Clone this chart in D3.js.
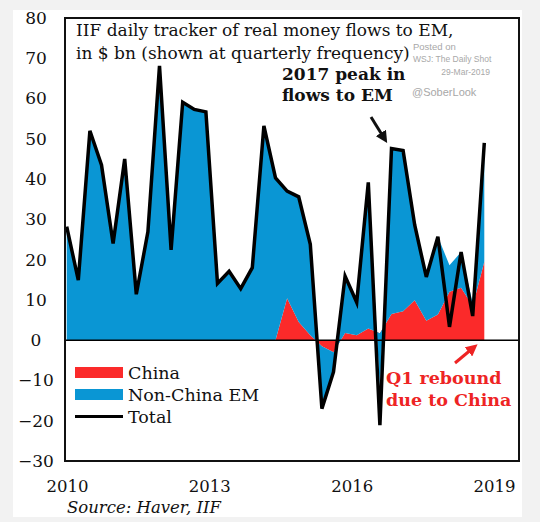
<!DOCTYPE html>
<html>
<head>
<meta charset="utf-8">
<script src="https://cdn.jsdelivr.net/npm/d3@7/dist/d3.min.js"></script>
<style>
body { margin: 0; background: #f2f2f2; }
svg text { font-family: "DejaVu Serif", "Liberation Serif", serif; }
</style>
</head>
<body>
<div id="chart"></div>
<script>
"use strict"

// quarterly categories, 2010Q1 .. 2019Q1
const quarters = [
    "2010Q1", "2010Q2", "2010Q3", "2010Q4", "2011Q1", "2011Q2", "2011Q3", "2011Q4",
    "2012Q1", "2012Q2", "2012Q3", "2012Q4", "2013Q1", "2013Q2", "2013Q3", "2013Q4",
    "2014Q1", "2014Q2", "2014Q3", "2014Q4", "2015Q1", "2015Q2", "2015Q3", "2015Q4",
    "2016Q1", "2016Q2", "2016Q3", "2016Q4", "2017Q1", "2017Q2", "2017Q3", "2017Q4",
    "2018Q1", "2018Q2", "2018Q3", "2018Q4", "2019Q1"
]

// $ bn
const total = [
    28.2, 14.9, 52.0, 43.5, 24.0, 45.0, 11.4, 26.9,
    68.1, 22.4, 59.1, 57.3, 56.7, 14.1, 17.1, 12.8,
    18.0, 53.2, 40.3, 37.0, 35.6, 23.8, -17.0, -7.9,
    15.9, 9.4, 39.2, -21.1, 47.6, 47.1, 28.6, 15.7,
    25.7, 3.3, 21.9, 6.0, 49.0
]

const china = [
    0, 0, 0, 0, 0, 0, 0, 0,
    0, 0, 0, 0, 0, 0, 0, 0,
    0, 0, 0, 10.4, 4.5, 1.2, -1.5, -3.0,
    1.8, 1.2, 2.9, 1.7, 6.5, 7.2, 9.9, 4.8,
    6.4, 12.0, 13.0, 8.5, 19.5
]

const nonChina = [
    28.2, 14.9, 52.0, 43.5, 24.0, 45.0, 11.4, 26.9,
    68.1, 22.4, 59.1, 57.3, 56.7, 14.1, 17.1, 12.8,
    18.0, 53.2, 40.3, 26.6, 31.1, 22.6, -15.5, -4.9,
    14.1, 8.2, 36.3, -13.7, 41.1, 39.9, 18.7, 10.9,
    19.3, 6.6, 8.9, 0.7, 29.5
]

const yTicks = [-30, -20, -10, 0, 10, 20, 30, 40, 50, 60, 70, 80]
const xTickYears = [2010, 2013, 2016, 2019]

const WIDTH = 540
const HEIGHT = 522
const PLOT = { left: 65, top: 18, right: 519, bottom: 461 }
const BLUE = "#0a96d4"
const RED = "#fb2a2a"
const RED_TEXT = "#ee2424"

const svg = d3.select("#chart").append("svg")
    .attr("width", WIDTH).attr("height", HEIGHT)

// white card on grey page
svg.append("rect").attr("x", 13).attr("y", 10)
    .attr("width", 509).attr("height", 507).attr("fill", "#fff")

// scales: data points per quarter, labels per year
const x = d3.scalePoint().domain(quarters).range([66.7, 484.3])
const xYears = d3.scaleLinear().domain([2010, 2019]).range([67, 494])
const y = d3.scaleLinear().domain([-30, 80]).range([PLOT.bottom, PLOT.top])

// stacked areas (china first, non-china on top)
const rows = quarters.map((q, i) => { return { q: q, china: china[i], nonChina: nonChina[i] } })
const series = d3.stack().keys(["china", "nonChina"])(rows)

const area = d3.area()
    .x((d) => { return x(d.data.q) })
    .y0((d) => { return y(d[0]) })
    .y1((d) => { return y(d[1]) })

svg.append("g").selectAll("path").data(series).join("path")
    .attr("d", area)
    .attr("fill", (d) => { return d.key === "china" ? RED : BLUE })

// zero line
svg.append("line")
    .attr("x1", PLOT.left).attr("x2", PLOT.right)
    .attr("y1", y(0)).attr("y2", y(0))
    .attr("stroke", "#000").attr("stroke-width", 1.5)

// total line
const line = d3.line()
    .x((d, i) => { return x(quarters[i]) })
    .y((d) => { return y(d) })

svg.append("path").attr("d", line(total))
    .attr("fill", "none").attr("stroke", "#000").attr("stroke-width", 3.5)

// plot frame
svg.append("rect")
    .attr("x", PLOT.left).attr("y", PLOT.top)
    .attr("width", PLOT.right - PLOT.left).attr("height", PLOT.bottom - PLOT.top)
    .attr("fill", "none").attr("stroke", "#111").attr("stroke-width", 2)

// axes
const yAxis = svg.append("g").attr("transform", "translate(" + PLOT.left + ",0)")
    .call(d3.axisLeft(y).tickValues(yTicks).tickSize(0))
yAxis.select(".domain").remove()
yAxis.selectAll("text")
    .attr("x", -29).attr("text-anchor", "middle")
    .style("font-size", "17px").style("font-family", "DejaVu Serif").attr("fill", "#111")

const xAxis = svg.append("g").attr("transform", "translate(0," + PLOT.bottom + ")")
    .call(d3.axisBottom(xYears).tickValues(xTickYears).tickFormat(d3.format("d")).tickSize(0))
xAxis.select(".domain").remove()
xAxis.selectAll("text")
    .attr("y", 31).attr("dy", 0)
    .style("font-size", "16.5px").style("font-family", "DejaVu Serif").attr("fill", "#111")

// title
const title = svg.append("text").style("font-size", "17px").attr("fill", "#111")
title.append("tspan").attr("x", 76).attr("y", 36).text("IIF daily tracker of real money flows to EM,")
title.append("tspan").attr("x", 76).attr("y", 59).text("in $ bn (shown at quarterly frequency)")

// watermark
const mark = svg.append("g").attr("fill", "#a8a8a8")
mark.append("text").attr("x", 413).attr("y", 50).style("font-family", "Liberation Sans")
    .style("font-size", "9.5px").text("Posted on")
mark.append("text").attr("x", 413).attr("y", 62).style("font-family", "Liberation Sans")
    .style("font-size", "8.5px").text("WSJ: The Daily Shot")
mark.append("text").attr("x", 490).attr("y", 75).attr("text-anchor", "end")
    .style("font-family", "Liberation Sans").style("font-size", "8.5px").text("29-Mar-2019")
mark.append("text").attr("x", 412).attr("y", 96).style("font-family", "Liberation Sans")
    .style("font-size", "11px").text("@SoberLook")

// peak annotation
const peak = svg.append("text").style("font-size", "17px").style("font-weight", "bold").attr("fill", "#111")
peak.append("tspan").attr("x", 282).attr("y", 80).text("2017 peak in")
peak.append("tspan").attr("x", 282).attr("y", 101).text("flows to EM")

svg.append("defs").selectAll("marker").data([["arrowBlack", "#111"], ["arrowRed", RED_TEXT]]).join("marker")
    .attr("id", (d) => { return d[0] })
    .attr("viewBox", "0 0 10 10").attr("refX", 5).attr("refY", 5)
    .attr("markerWidth", 4).attr("markerHeight", 4).attr("orient", "auto")
    .append("path").attr("d", "M0,0 L10,5 L0,10 z").attr("fill", (d) => { return d[1] })

svg.append("line").attr("x1", 371).attr("y1", 117).attr("x2", 384).attr("y2", 138)
    .attr("stroke", "#111").attr("stroke-width", 3).attr("marker-end", "url(#arrowBlack)")

// china annotation
const q1 = svg.append("text").style("font-size", "17.5px").style("font-weight", "bold").attr("fill", RED_TEXT)
q1.append("tspan").attr("x", 386).attr("y", 384).text("Q1 rebound")
q1.append("tspan").attr("x", 386).attr("y", 406).text("due to China")

svg.append("line").attr("x1", 455).attr("y1", 363).attr("x2", 473).attr("y2", 348)
    .attr("stroke", RED_TEXT).attr("stroke-width", 3).attr("marker-end", "url(#arrowRed)")

// legend
const legendItems = [
    { label: "China", color: RED, kind: "box" },
    { label: "Non-China EM", color: BLUE, kind: "box" },
    { label: "Total", color: "#000", kind: "line" }
]
const legend = svg.append("g").attr("transform", "translate(75,367)")
legendItems.forEach((d, i) => {
    let g = legend.append("g").attr("transform", "translate(0," + (i * 22) + ")")
    if (d.kind === "box") {
        g.append("rect").attr("width", 48).attr("height", 11).attr("fill", d.color)
    } else {
        g.append("line").attr("x1", 0).attr("x2", 48).attr("y1", 5.5).attr("y2", 5.5)
            .attr("stroke", d.color).attr("stroke-width", 3)
    }
    g.append("text").attr("x", 53).attr("y", 12).style("font-size", "17.5px")
        .attr("fill", "#111").text(d.label)
})

// source
svg.append("text").attr("x", 67).attr("y", 513)
    .style("font-size", "16.5px").style("font-style", "italic").attr("fill", "#111")
    .text("Source: Haver, IIF")
</script>
</body>
</html>
